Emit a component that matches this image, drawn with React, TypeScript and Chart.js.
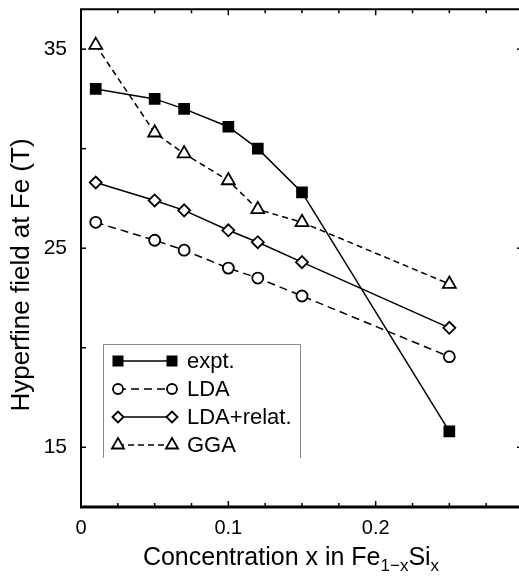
import React, { useEffect, useRef } from "react";
import { Chart, registerables } from "chart.js";

Chart.register(...registerables);

const xValues = [0.01, 0.05, 0.07, 0.1, 0.12, 0.15, 0.25];
const expt = [33.0, 32.5, 32.0, 31.1, 30.0, 27.8, 15.8];
const lda = [26.3, 25.4, 24.9, 24.0, 23.5, 22.6, 19.55];
const ldaRelat = [28.3, 27.4, 26.9, 25.9, 25.3, 24.3, 21.0];
const gga = [35.2, 30.8, 29.75, 28.4, 26.95, 26.3, 23.2];

const seriesNames = ["expt.", "LDA", "LDA+relat.", "GGA"];

const xTickValues = [0, 0.025, 0.05, 0.075, 0.1, 0.125, 0.15, 0.175, 0.2, 0.225, 0.25, 0.275, 0.3];
const xMajorTicks = [0, 0.1, 0.2];
const xTickLabels = ["0", "0.1", "0.2"];
const yTickValues = [15, 20, 25, 30, 35];
const yLabeledTicks = [15, 25, 35];
const yTickLabels = ["15", "25", "35"];

const FONT = "'Liberation Sans', Arial, Helvetica, sans-serif";

const styles = [
  { pointStyle: "rect", radius: 7, fill: "#000", dash: [] as number[] },
  { pointStyle: "circle", radius: 5.5, fill: "#fff", dash: [8, 5] },
  { pointStyle: "rectRot", radius: 6, fill: "#fff", dash: [] as number[] },
  { pointStyle: "triangle", radius: 7.5, fill: "#fff", dash: [6, 4] },
];

const seriesData = [expt, lda, ldaRelat, gga];

function marker(ctx: CanvasRenderingContext2D, style: string, r: number, x: number, y: number) {
  ctx.beginPath();
  if (style === "rect") {
    const s = Math.SQRT1_2 * r;
    ctx.rect(x - s, y - s, 2 * s, 2 * s);
  } else if (style === "circle") {
    ctx.arc(x, y, r, 0, Math.PI * 2);
  } else if (style === "rectRot") {
    ctx.moveTo(x - r, y);
    ctx.lineTo(x, y - r);
    ctx.lineTo(x + r, y);
    ctx.lineTo(x, y + r);
    ctx.closePath();
  } else if (style === "triangle") {
    const a = -Math.PI / 2;
    for (let k = 0; k < 3; k++) {
      const ang = a + (k * 2 * Math.PI) / 3;
      const px = x + Math.cos(ang) * r;
      const py = y + Math.sin(ang) * r;
      if (k === 0) ctx.moveTo(px, py);
      else ctx.lineTo(px, py);
    }
    ctx.closePath();
  }
  ctx.fill();
  ctx.stroke();
}

const framePlugin = {
  id: "frameTicks",
  afterDraw(chart: any) {
    const ctx = chart.ctx as CanvasRenderingContext2D;
    const { left, right, top, bottom } = chart.chartArea;
    const xs = chart.scales.x;
    const ys = chart.scales.y;
    ctx.save();
    ctx.strokeStyle = "#000";
    ctx.setLineDash([]);
    // frame
    ctx.lineWidth = 2;
    ctx.beginPath();
    ctx.moveTo(left, bottom);
    ctx.lineTo(left, top);
    ctx.lineTo(right, top);
    ctx.lineTo(right, bottom);
    ctx.stroke();
    ctx.lineWidth = 3;
    ctx.beginPath();
    ctx.moveTo(left - 1, bottom);
    ctx.lineTo(right, bottom);
    ctx.stroke();
    // x ticks
    ctx.lineWidth = 1.5;
    xTickValues.forEach((v) => {
      const px = xs.getPixelForValue(v);
      const major = xMajorTicks.includes(v);
      const len = major ? 6 : 4;
      ctx.beginPath();
      ctx.moveTo(px, bottom);
      ctx.lineTo(px, bottom - len);
      ctx.moveTo(px, top);
      ctx.lineTo(px, top + len);
      ctx.stroke();
    });
    yTickValues.forEach((v) => {
      const py = ys.getPixelForValue(v);
      ctx.beginPath();
      ctx.moveTo(left, py);
      ctx.lineTo(left + 5, py);
      ctx.stroke();
      if (yLabeledTicks.includes(v)) {
        ctx.beginPath();
        ctx.moveTo(right, py);
        ctx.lineTo(right - 6, py);
        ctx.stroke();
      }
    });

    // legend
    const lx0 = 103, ly0 = 344, lx1 = 300, ly1 = 458;
    ctx.strokeStyle = "#888";
    ctx.lineWidth = 1;
    ctx.beginPath();
    ctx.moveTo(lx0 + 0.5, ly1);
    ctx.lineTo(lx0 + 0.5, ly0 + 0.5);
    ctx.lineTo(lx1 + 0.5, ly0 + 0.5);
    ctx.lineTo(lx1 + 0.5, ly1);
    ctx.stroke();
    const rowY = [361, 389, 417, 445];
    styles.forEach((st, i) => {
      const y = rowY[i];
      ctx.strokeStyle = "#000";
      ctx.lineWidth = 1.5;
      ctx.setLineDash(st.dash);
      ctx.beginPath();
      ctx.moveTo(118, y);
      ctx.lineTo(172, y);
      ctx.stroke();
      ctx.setLineDash([]);
      [118, 172].forEach((mx) => {
        ctx.fillStyle = st.fill;
        ctx.strokeStyle = "#000";
        ctx.lineWidth = 1.8;
        marker(ctx, st.pointStyle, st.radius - 0.5, mx, y);
      });
      ctx.fillStyle = "#000";
      ctx.font = `22px ${FONT}`;
      ctx.textAlign = "left";
      ctx.textBaseline = "middle";
      ctx.fillText(seriesNames[i], 187, y + 1);
    });

    // x title with subscripts
    const big = `25px ${FONT}`;
    const small = `17px ${FONT}`;
    const parts = [
      { t: "Concentration x in Fe", f: big, dy: 0 },
      { t: "1\u2212x", f: small, dy: 6 },
      { t: "Si", f: big, dy: 0 },
      { t: "x", f: small, dy: 6 },
    ];
    let total = 0;
    parts.forEach((p) => {
      ctx.font = p.f;
      total += ctx.measureText(p.t).width;
    });
    let cx = 291 - total / 2;
    ctx.fillStyle = "#000";
    ctx.textAlign = "left";
    ctx.textBaseline = "alphabetic";
    parts.forEach((p) => {
      ctx.font = p.f;
      ctx.fillText(p.t, cx, 565 + p.dy);
      cx += ctx.measureText(p.t).width;
    });

    // y title
    ctx.save();
    ctx.translate(29, 275);
    ctx.rotate(-Math.PI / 2);
    ctx.font = `26px ${FONT}`;
    ctx.textAlign = "center";
    ctx.textBaseline = "alphabetic";
    ctx.fillText("Hyperfine field at Fe (T)", 0, 0);
    ctx.restore();

    ctx.restore();
  },
};

export default function App() {
  const ref = useRef<HTMLCanvasElement | null>(null);
  useEffect(() => {
    if (!ref.current) return;
    const datasets = seriesData.map((d, i) => ({
      label: seriesNames[i],
      data: xValues.map((x, j) => ({ x, y: d[j] })),
      borderColor: "#000",
      borderWidth: 1.5,
      borderDash: styles[i].dash,
      backgroundColor: styles[i].fill,
      pointStyle: styles[i].pointStyle,
      pointRadius: styles[i].radius,
      pointBorderWidth: 1.8,
      pointBorderColor: "#000",
      pointBackgroundColor: styles[i].fill,
      fill: false,
      tension: 0,
    }));
    const chart = new Chart(ref.current, {
      type: "line",
      data: { datasets: datasets as any },
      plugins: [framePlugin],
      options: {
        responsive: false,
        animation: false,
        devicePixelRatio: 1,
        layout: { padding: { top: 7.5, right: 12, left: 0, bottom: 0 } },
        plugins: { legend: { display: false }, tooltip: { enabled: false } },
        scales: {
          x: {
            type: "linear",
            min: 0,
            max: 0.3,
            afterFit: (s: any) => {
              s.height = 69;
              s.paddingLeft = 0;
              s.paddingRight = 0;
            },
            afterBuildTicks: (s: any) => {
              s.ticks = xTickValues.map((v) => ({ value: v }));
            },
            grid: { display: false, drawTicks: false },
            border: { display: false },
            ticks: {
              autoSkip: false,
              maxRotation: 0,
              padding: 9,
              color: "#000",
              font: { size: 20, family: FONT },
              callback: (v: any) => {
                const idx = xMajorTicks.findIndex((m) => Math.abs(m - Number(v)) < 1e-9);
                return idx >= 0 ? xTickLabels[idx] : "";
              },
            },
          },
          y: {
            type: "linear",
            min: 12,
            max: 37,
            afterFit: (s: any) => {
              s.width = 81;
              s.paddingTop = 0;
              s.paddingBottom = 0;
            },
            afterBuildTicks: (s: any) => {
              s.ticks = yTickValues.map((v) => ({ value: v }));
            },
            grid: { display: false, drawTicks: false },
            border: { display: false },
            ticks: {
              autoSkip: false,
              padding: 14,
              color: "#000",
              font: { size: 21, family: FONT },
              callback: (v: any) => {
                const idx = yLabeledTicks.indexOf(Number(v));
                return idx >= 0 ? yTickLabels[idx] : "";
              },
            },
          },
        },
      },
    });
    return () => chart.destroy();
  }, []);
  return (
    <div style={{ position: "fixed", left: 0, top: 0, width: 519, height: 576, overflow: "hidden", background: "#fff" }}>
      <canvas ref={ref} width={535} height={576} style={{ width: 535, height: 576, display: "block" }} />
    </div>
  );
}
